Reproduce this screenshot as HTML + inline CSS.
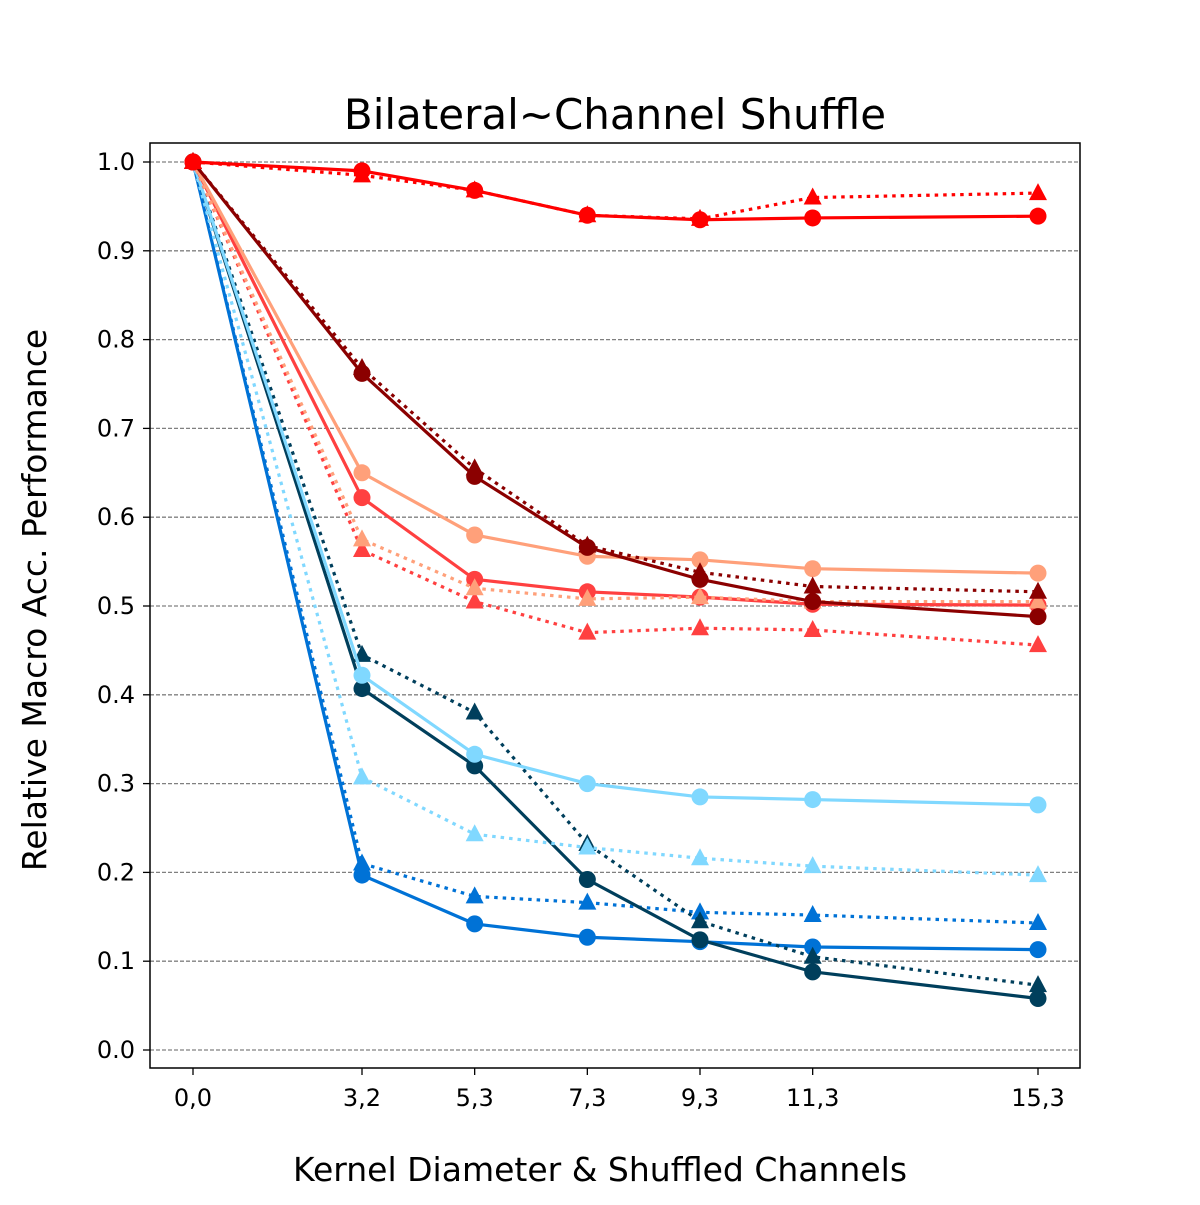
<!DOCTYPE html>
<html><head><meta charset="utf-8"><style>
body{margin:0;background:#fff;}
svg text{font-family:"DejaVu Sans","Liberation Sans",sans-serif;fill:#000;}
</style></head><body>
<svg id="chart" width="1200" height="1200">
<rect x="0" y="0" width="1200" height="1200" fill="#fff"/>
<text x="615" y="129" font-size="42" text-anchor="middle">Bilateral~Channel Shuffle</text>
<text transform="translate(46,600) rotate(-90)" font-size="33" text-anchor="middle">Relative Macro Acc. Performance</text>
<text x="600" y="1181" font-size="33" text-anchor="middle">Kernel Diameter &amp; Shuffled Channels</text>
<g id="grid"></g><g id="axes"></g><g id="series"></g>
<rect x="150" y="143" width="930" height="925" fill="none" stroke="#000" stroke-width="1.5"/>
</svg>
<script>
const xValues=[0,3,5,7,9,11,15];
const xTickLabels=["0,0","3,2","5,3","7,3","9,3","11,3","15,3"];
const yTicks=[0,0.1,0.2,0.3,0.4,0.5,0.6,0.7,0.8,0.9,1.0];
const redSolid=[1.0,0.99,0.968,0.94,0.935,0.937,0.939];
const redDotted=[1.0,0.985,0.968,0.94,0.936,0.96,0.965];
const darkredSolid=[1.0,0.762,0.646,0.566,0.53,0.505,0.488];
const darkredDotted=[1.0,0.768,0.655,0.568,0.538,0.522,0.516];
const salmonSolid=[1.0,0.65,0.58,0.556,0.552,0.542,0.537];
const salmonDotted=[1.0,0.575,0.52,0.508,0.51,0.505,0.505];
const tomatoSolid=[1.0,0.622,0.53,0.516,0.51,0.502,0.501];
const tomatoDotted=[1.0,0.563,0.505,0.47,0.475,0.473,0.456];
const lightblueSolid=[1.0,0.422,0.333,0.3,0.285,0.282,0.276];
const lightblueDotted=[1.0,0.307,0.243,0.228,0.216,0.207,0.197];
const navySolid=[1.0,0.407,0.32,0.192,0.124,0.088,0.058];
const navyDotted=[1.0,0.445,0.38,0.232,0.145,0.105,0.073];
const blueSolid=[1.0,0.197,0.142,0.127,0.122,0.116,0.113];
const blueDotted=[1.0,0.21,0.173,0.166,0.155,0.152,0.143];

const NS="http://www.w3.org/2000/svg";
const xs=v=>193+v*(1038-193)/15;
const ys=v=>1050-v*888;
function mk(tag,attrs,parent){const e=document.createElementNS(NS,tag);for(const k in attrs)e.setAttribute(k,attrs[k]);parent.appendChild(e);return e;}
const grid=document.getElementById('grid'),axes=document.getElementById('axes'),ser=document.getElementById('series');
yTicks.forEach(t=>{
  const l=mk('line',{x1:150,x2:1080,y1:ys(t),y2:ys(t),stroke:'#808080','stroke-width':1.3,'stroke-dasharray':'4,2'},grid);
  
  
  mk('line',{x1:143,x2:150,y1:ys(t),y2:ys(t),stroke:'#000','stroke-width':1.3},axes);
  const tx=mk('text',{x:135,y:ys(t)+8,'font-size':24,'text-anchor':'end'},axes);
  tx.textContent=t.toFixed(1);
  
  
});
xValues.forEach((v,i)=>{
  mk('line',{x1:xs(v),x2:xs(v),y1:1068,y2:1075,stroke:'#000','stroke-width':1.3},axes);
  const tx=mk('text',{x:xs(v),y:1106,'font-size':24,'text-anchor':'middle'},axes);
  tx.textContent=xTickLabels[i];
  
  
});
const defs=[
 [blueDotted,'#0072d6',true],[blueSolid,'#0072d6',false],
 [navyDotted,'#003f5c',true],[navySolid,'#003f5c',false],
 [lightblueDotted,'#80d8ff',true],[lightblueSolid,'#80d8ff',false],
 [tomatoDotted,'#ff4040',true],[tomatoSolid,'#ff4040',false],
 [salmonDotted,'#ffa07a',true],[salmonSolid,'#ffa07a',false],
 [darkredDotted,'#8b0000',true],[darkredSolid,'#8b0000',false],
 [redDotted,'#ff0000',true],[redSolid,'#ff0000',false]];
defs.forEach(([vals,col,dot])=>{
  const g=mk('g',{},ser);
  
  
  const pts=vals.map((v,i)=>xs(xValues[i])+','+ys(v)).join(' ');
  const pl=mk('polyline',{points:pts,fill:'none',stroke:col,'stroke-width':3.2},g);
  if(dot){pl.setAttribute('stroke-dasharray','3.5,5');}
  vals.forEach((v,i)=>{
    const x=xs(xValues[i]),y=ys(v);
    let m;
    if(dot){m=mk('polygon',{points:`${x},${y-10} ${x-9},${y+7} ${x+9},${y+7}`,fill:col},g);}
    else{m=mk('circle',{cx:x,cy:y,r:8.5,fill:col},g);}
    
    
  });
});
</script>
</body></html>
